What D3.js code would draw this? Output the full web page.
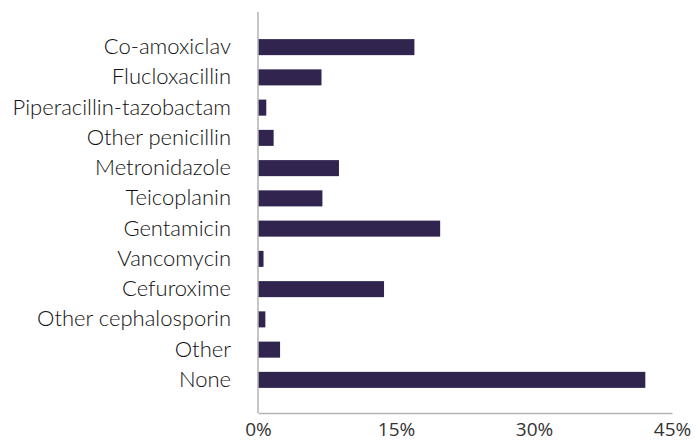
<!DOCTYPE html>
<html>
<head>
<meta charset="utf-8">
<script src="https://cdn.jsdelivr.net/npm/d3@7"></script>
<style>
  html, body { margin: 0; padding: 0; background: #fff; }
  svg { display: block; }
</style>
</head>
<body>
<div id="chart"></div>
<script>
const categories = ["Co-amoxiclav", "Flucloxacillin", "Piperacillin-tazobactam", "Other penicillin",
  "Metronidazole", "Teicoplanin", "Gentamicin", "Vancomycin", "Cefuroxime",
  "Other cephalosporin", "Other", "None"];
const values = [17.0, 6.9, 0.9, 1.7, 8.8, 7.0, 19.8, 0.6, 13.7, 0.8, 2.4, 42.1];
const tickValues = [0, 15, 30, 45];
const tickLabels = ["0%", "15%", "30%", "45%"];

const W = 698, H = 441;
const svg = d3.select("#chart").append("svg").attr("width", W).attr("height", H);

const x = d3.scaleLinear().domain([0, 45]).range([258, 672]);
const y = d3.scaleBand().domain(categories).range([32, 395])
  .paddingInner(0.47).paddingOuter(0.235);

const axisColor = "#b3b3b3";

// bars
svg.append("g").selectAll("rect").data(categories).join("rect")
  .attr("x", x(0))
  .attr("y", d => y(d))
  .attr("width", (d, i) => x(values[i]) - x(0))
  .attr("height", y.bandwidth())
  .attr("fill", "#31254f");

// y axis line
svg.append("line").attr("x1", x(0)).attr("x2", x(0)).attr("y1", 12).attr("y2", 413)
  .attr("stroke", axisColor).attr("stroke-width", 1.5);
// x axis
const xAxis = d3.axisBottom(x).tickValues(tickValues)
  .tickFormat((d, i) => tickLabels[i]).tickSize(0).tickPadding(0);
const gx = svg.append("g").attr("transform", "translate(0,413)").call(xAxis);
gx.select(".domain").attr("stroke", axisColor).attr("stroke-width", 1.5);
gx.selectAll("text")
  .attr("dy", null).attr("y", 23)
  .attr("fill", "#333")
  .style("font-family", "'Open Sans', sans-serif")
  .style("font-weight", "400")
  .style("font-size", "19px");

// category labels
const yAxis = d3.axisLeft(y).tickSize(0).tickPadding(0);
const gy = svg.append("g").attr("transform", "translate(231,0)").call(yAxis);
gy.select(".domain").remove();
gy.selectAll("text")
  .attr("fill", "#111")
  .style("font-family", "Lato, sans-serif")
  .style("font-weight", "300")
  .style("font-size", "22px");
</script>
</body>
</html>
